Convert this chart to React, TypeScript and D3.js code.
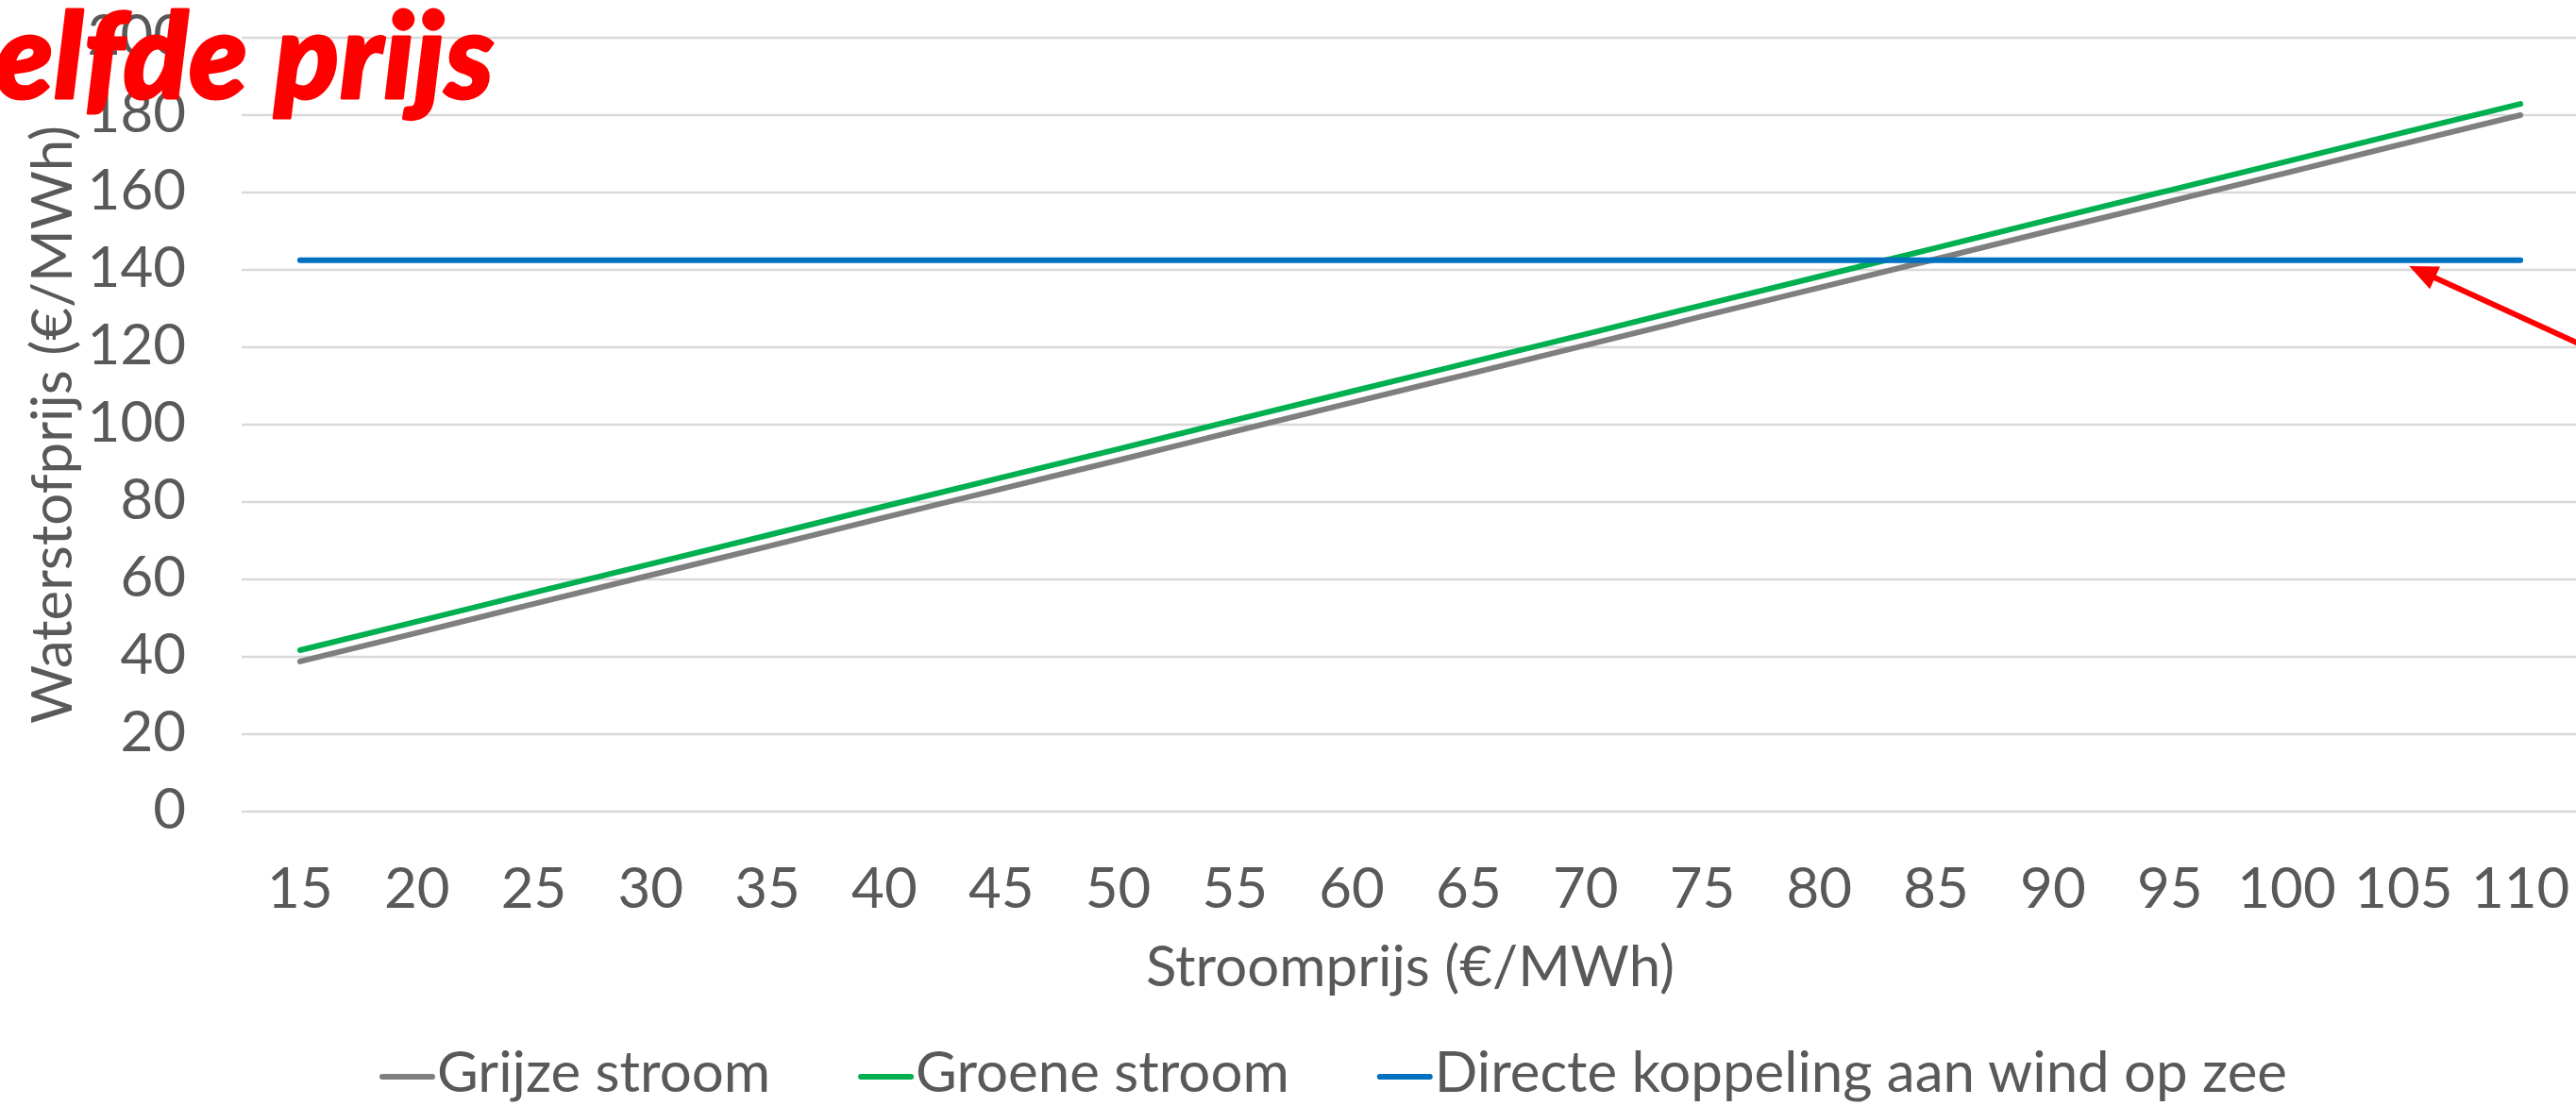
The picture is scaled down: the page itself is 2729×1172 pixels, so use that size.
import React, { useEffect, useRef } from 'react';
import * as d3 from 'd3';

// stroomprijs (€/MWh) categories on the x axis
const stroomprijs = ['15', '20', '25', '30', '35', '40', '45', '50', '55', '60', '65', '70', '75', '80', '85', '90', '95', '100', '105', '110'];

// waterstofprijs (€/MWh) per series
const grijzeStroom = [38.8, 46.2, 53.7, 61.1, 68.5, 76.0, 83.4, 90.8, 98.3, 105.7, 113.1, 120.5, 128.0, 135.4, 142.8, 150.3, 157.7, 165.1, 172.6, 180.0];
const groeneStroom = [41.7, 49.1, 56.6, 64.0, 71.4, 78.9, 86.3, 93.7, 101.2, 108.6, 116.0, 123.4, 130.9, 138.3, 145.7, 153.2, 160.6, 168.0, 175.5, 182.9];
const directeKoppeling = [142.5, 142.5, 142.5, 142.5, 142.5, 142.5, 142.5, 142.5, 142.5, 142.5, 142.5, 142.5, 142.5, 142.5, 142.5, 142.5, 142.5, 142.5, 142.5, 142.5];

const yTicks = [0, 20, 40, 60, 80, 100, 120, 140, 160, 180, 200];
const seriesNames = ['Grijze stroom', 'Groene stroom', 'Directe koppeling aan wind op zee'];
const seriesColors = ['#7f7f7f', '#00b050', '#0070c0'];

const xTitle = 'Stroomprijs (€/MWh)';
const yTitle = 'Waterstofprijs (€/MWh)';
const headline = 'elfde prijs';

const WIDTH = 2729;
const HEIGHT = 1172;
const FONT = 'Lato, "Open Sans", sans-serif';
const TEXT = '#595959';

export default function App() {
  const svgRef = useRef<SVGSVGElement>(null);

  useEffect(() => {
    document.body.style.margin = '0';
    const svg = d3.select(svgRef.current);
    svg.selectAll('*').remove();

    const plot = { left: 256, right: 2732, top: 40, bottom: 860 };

    const x = d3.scaleBand()
      .domain(stroomprijs)
      .range([plot.left, plot.right])
      .padding(0);
    const cx = (d: string) => (x(d) as number) + x.bandwidth() / 2;

    const y = d3.scaleLinear()
      .domain([0, 200])
      .range([plot.bottom, plot.top]);

    // gridlines
    svg.append('g')
      .selectAll('line')
      .data(yTicks)
      .enter()
      .append('line')
      .attr('x1', plot.left)
      .attr('x2', plot.right)
      .attr('y1', d => y(d))
      .attr('y2', d => y(d))
      .attr('stroke', '#d9d9d9')
      .attr('stroke-width', 2.5);

    // y tick labels
    svg.append('g')
      .selectAll('text')
      .data(yTicks)
      .enter()
      .append('text')
      .attr('x', 197)
      .attr('y', d => y(d) + 18)
      .attr('text-anchor', 'end')
      .style('font-family', FONT)
      .style('font-size', '60px')
      .style('fill', TEXT)
      .text(d => d);

    // x tick labels
    svg.append('g')
      .selectAll('text')
      .data(stroomprijs)
      .enter()
      .append('text')
      .attr('x', d => cx(d))
      .attr('y', 962)
      .attr('text-anchor', 'middle')
      .style('font-family', FONT)
      .style('font-size', '60px')
      .style('fill', TEXT)
      .text(d => d);

    // axis titles
    svg.append('text')
      .attr('x', (plot.left + plot.right) / 2)
      .attr('y', 1045)
      .attr('text-anchor', 'middle')
      .style('font-family', FONT)
      .style('font-size', '60px')
      .style('fill', TEXT)
      .text(xTitle);

    svg.append('text')
      .attr('transform', `translate(76,${(plot.top + plot.bottom) / 2}) rotate(-90)`)
      .attr('text-anchor', 'middle')
      .style('font-family', FONT)
      .style('font-size', '60px')
      .style('fill', TEXT)
      .text(yTitle);

    // series lines
    const series = [grijzeStroom, groeneStroom, directeKoppeling];
    const line = d3.line<number>()
      .x((d, i) => cx(stroomprijs[i]))
      .y(d => y(d));

    series.forEach((values, i) => {
      svg.append('path')
        .datum(values)
        .attr('d', line)
        .attr('fill', 'none')
        .attr('stroke', seriesColors[i])
        .attr('stroke-width', 6)
        .attr('stroke-linecap', 'round')
        .attr('stroke-linejoin', 'round');
    });

    // legend, laid out left to right
    const legend = svg.append('g');
    let lx = 405;
    const ly = 1157;
    seriesNames.forEach((name, i) => {
      legend.append('line')
        .attr('x1', lx)
        .attr('x2', lx + 53)
        .attr('y1', ly - 16)
        .attr('y2', ly - 16)
        .attr('stroke', seriesColors[i])
        .attr('stroke-width', 6)
        .attr('stroke-linecap', 'round');
      const t = legend.append('text')
        .attr('x', lx + 58)
        .attr('y', ly)
        .style('font-family', FONT)
        .style('font-size', '60px')
        .style('fill', TEXT)
        .text(name);
      const w = (t.node() as SVGTextElement).getComputedTextLength();
      lx = lx + 58 + w + 96;
    });

    // red arrow pointing at the flat blue line
    const tipX = cx('105') + 6;
    const tipY = y(141);
    const dx = 177, dy = 81;
    const len = Math.hypot(dx, dy);
    const ux = dx / len, uy = dy / len;
    const headLen = 30, headHalf = 13;
    const baseX = tipX + ux * headLen, baseY = tipY + uy * headLen;
    svg.append('line')
      .attr('x1', baseX - ux * 2)
      .attr('y1', baseY - uy * 2)
      .attr('x2', tipX + ux * 300)
      .attr('y2', tipY + uy * 300)
      .attr('stroke', '#ff0000')
      .attr('stroke-width', 6);
    svg.append('path')
      .attr('d', `M${tipX},${tipY} L${baseX - uy * headHalf},${baseY + ux * headHalf} L${baseX + uy * headHalf},${baseY - ux * headHalf} Z`)
      .attr('fill', '#ff0000');

    // headline, partly cut off at the left edge
    svg.append('text')
      .attr('x', 524)
      .attr('y', 104)
      .attr('text-anchor', 'end')
      .style('font-family', FONT)
      .style('font-size', '126px')
      .style('font-weight', 900)
      .style('font-style', 'italic')
      .style('letter-spacing', '1px')
      .style('fill', '#ff0000')
      .style('stroke', '#ff0000')
      .style('stroke-width', '3px')
      .style('stroke-linejoin', 'round')
      .text(headline);
  }, []);

  return (
    <svg
      ref={svgRef}
      width={WIDTH}
      height={HEIGHT}
      style={{ display: 'block', background: 'white', overflow: 'hidden' }}
    />
  );
}
